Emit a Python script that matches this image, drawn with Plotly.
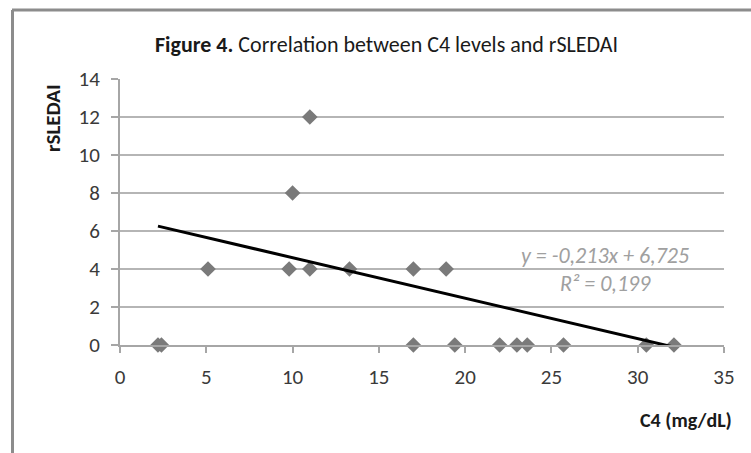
import plotly.graph_objects as go

# Data
c4 = [2.2, 2.4, 17.0, 19.4, 22.0, 23.0, 23.6, 25.7, 30.5, 32.1,
      5.1, 9.8, 11.0, 13.3, 17.0, 18.9, 10.0, 11.0]
rsledai = [0, 0, 0, 0, 0, 0, 0, 0, 0, 0,
           4, 4, 4, 4, 4, 4, 8, 12]
slope = -0.213
intercept = 6.725
r2 = 0.199
x_ticks = [0, 5, 10, 15, 20, 25, 30, 35]
y_ticks = [0, 2, 4, 6, 8, 10, 12, 14]

FONT = "Carlito, Lato, sans-serif"

fig = go.Figure()
fig.add_trace(go.Scatter(
    x=c4, y=rsledai, mode="markers",
    marker=dict(symbol="diamond", size=12, color="#7a7a7a", line=dict(width=0)),
    cliponaxis=False, showlegend=False))

xmin, xmax = min(c4), max(c4)
fig.add_trace(go.Scatter(
    x=[xmin, xmax], y=[slope * xmin + intercept, slope * xmax + intercept],
    mode="lines", line=dict(color="#000000", width=3), showlegend=False))

fig.update_layout(
    width=751, height=453,
    margin=dict(l=120, r=27, t=79, b=108),
    paper_bgcolor="white", plot_bgcolor="white",
    font=dict(family=FONT, color="#404040", size=21),
    xaxis=dict(range=[0, 35], tickvals=x_ticks, showgrid=False, zeroline=False,
               showline=True, linecolor="#a6a6a6", linewidth=2,
               ticks="outside", ticklen=6, tickcolor="#a6a6a6", tickwidth=1.5,
               ticklabelstandoff=6,
               tickfont=dict(size=21, color="#3a3a3a", family=FONT)),
    yaxis=dict(range=[0, 14], tickvals=y_ticks, showgrid=True, gridcolor="#b5b5b5",
               gridwidth=1.5, zeroline=False,
               showline=True, linecolor="#a6a6a6", linewidth=2,
               ticks="outside", ticklen=7, tickcolor="#a6a6a6", tickwidth=1.5,
               ticklabelstandoff=7,
               tickfont=dict(size=21, color="#3a3a3a", family=FONT)),
    annotations=[
        dict(text="<b>Figure 4.</b> Correlation between C4 levels and rSLEDAI",
             xref="paper", yref="paper", x=(386 - 120) / 604, y=(345 - 44) / 266,
             xanchor="center", yanchor="middle", showarrow=False,
             font=dict(size=22, color="#1a1a1a", family=FONT)),
        dict(text="<b>rSLEDAI</b>", textangle=-90,
             xref="paper", yref="paper", x=(53 - 120) / 604, y=(345 - 118) / 266,
             xanchor="center", yanchor="middle", showarrow=False,
             font=dict(size=21, color="#1a1a1a", family=FONT)),
        dict(text="<b>C4 (mg/dL)</b>",
             xref="paper", yref="paper", x=(734 - 120) / 604, y=(345 - 420) / 266,
             xanchor="right", yanchor="middle", showarrow=False,
             font=dict(size=20, color="#1a1a1a", family=FONT)),
        dict(text=f"<i>y = {slope:.3f}x + {intercept:.3f}</i>".replace(".", ","),
             xref="paper", yref="paper", x=(605 - 120) / 604, y=(345 - 255) / 266,
             xanchor="center", yanchor="middle", showarrow=False,
             font=dict(size=22, color="#a0a0a0", family=FONT)),
        dict(text=f"<i>R² = {r2:.3f}</i>".replace(".", ","),
             xref="paper", yref="paper", x=(605 - 120) / 604, y=(345 - 283) / 266,
             xanchor="center", yanchor="middle", showarrow=False,
             font=dict(size=22, color="#a0a0a0", family=FONT)),
    ],
    shapes=[
        dict(type="line", xref="paper", yref="paper",
             x0=(12 - 120) / 604, x1=(760 - 120) / 604,
             y0=(345 - 10) / 266, y1=(345 - 10) / 266,
             line=dict(color="#8c8c8c", width=3)),
        dict(type="line", xref="paper", yref="paper",
             x0=(12.5 - 120) / 604, x1=(12.5 - 120) / 604,
             y0=(345 - 10) / 266, y1=(345 - 470) / 266,
             line=dict(color="#8c8c8c", width=3)),
    ],
)

fig.write_html("out.html")
